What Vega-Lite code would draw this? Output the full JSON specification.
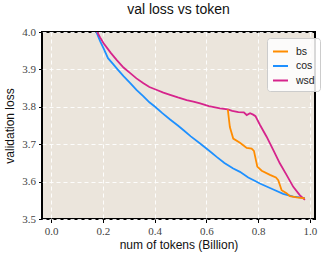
{
  "$schema": "https://vega.github.io/schema/vega-lite/v6.json",
  "autosize": {"type": "none"},
  "width": 273,
  "height": 187,
  "padding": {"left": 42, "top": 32, "right": 9, "bottom": 39},
  "background": "white",
  "title": {"text": "val loss vs token", "font": "Liberation Sans", "fontSize": 14, "fontWeight": "normal", "color": "#111111", "offset": 9},
  "data": {"values": [
    {"s":"cos","x":0.175,"y":4.0},{"s":"cos","x":0.19,"y":3.975},{"s":"cos","x":0.203,"y":3.956},{"s":"cos","x":0.22,"y":3.93},{"s":"cos","x":0.24,"y":3.914},{"s":"cos","x":0.257,"y":3.9},{"s":"cos","x":0.28,"y":3.882},{"s":"cos","x":0.306,"y":3.863},{"s":"cos","x":0.33,"y":3.845},{"s":"cos","x":0.357,"y":3.828},{"s":"cos","x":0.38,"y":3.812},{"s":"cos","x":0.402,"y":3.8},{"s":"cos","x":0.43,"y":3.783},{"s":"cos","x":0.46,"y":3.766},{"s":"cos","x":0.49,"y":3.75},{"s":"cos","x":0.511,"y":3.738},{"s":"cos","x":0.54,"y":3.721},{"s":"cos","x":0.576,"y":3.702},{"s":"cos","x":0.61,"y":3.683},{"s":"cos","x":0.64,"y":3.666},{"s":"cos","x":0.67,"y":3.65},{"s":"cos","x":0.704,"y":3.635},{"s":"cos","x":0.73,"y":3.626},{"s":"cos","x":0.762,"y":3.611},{"s":"cos","x":0.785,"y":3.603},{"s":"cos","x":0.807,"y":3.595},{"s":"cos","x":0.833,"y":3.587},{"s":"cos","x":0.859,"y":3.579},{"s":"cos","x":0.897,"y":3.567},{"s":"cos","x":0.936,"y":3.56},{"s":"cos","x":0.96,"y":3.558},{"s":"cos","x":0.981,"y":3.556},
    {"s":"wsd","x":0.178,"y":4.0},{"s":"wsd","x":0.19,"y":3.985},{"s":"wsd","x":0.203,"y":3.97},{"s":"wsd","x":0.23,"y":3.945},{"s":"wsd","x":0.254,"y":3.925},{"s":"wsd","x":0.28,"y":3.905},{"s":"wsd","x":0.306,"y":3.89},{"s":"wsd","x":0.33,"y":3.876},{"s":"wsd","x":0.357,"y":3.863},{"s":"wsd","x":0.38,"y":3.853},{"s":"wsd","x":0.409,"y":3.845},{"s":"wsd","x":0.434,"y":3.838},{"s":"wsd","x":0.46,"y":3.832},{"s":"wsd","x":0.49,"y":3.825},{"s":"wsd","x":0.524,"y":3.818},{"s":"wsd","x":0.55,"y":3.814},{"s":"wsd","x":0.576,"y":3.809},{"s":"wsd","x":0.61,"y":3.802},{"s":"wsd","x":0.653,"y":3.796},{"s":"wsd","x":0.683,"y":3.793},{"s":"wsd","x":0.7,"y":3.789},{"s":"wsd","x":0.724,"y":3.786},{"s":"wsd","x":0.745,"y":3.785},{"s":"wsd","x":0.756,"y":3.778},{"s":"wsd","x":0.769,"y":3.783},{"s":"wsd","x":0.781,"y":3.779},{"s":"wsd","x":0.79,"y":3.775},{"s":"wsd","x":0.807,"y":3.752},{"s":"wsd","x":0.833,"y":3.72},{"s":"wsd","x":0.859,"y":3.684},{"s":"wsd","x":0.884,"y":3.649},{"s":"wsd","x":0.91,"y":3.618},{"s":"wsd","x":0.936,"y":3.586},{"s":"wsd","x":0.961,"y":3.564},{"s":"wsd","x":0.981,"y":3.551},
    {"s":"bs","x":0.683,"y":3.793},{"s":"bs","x":0.691,"y":3.746},{"s":"bs","x":0.704,"y":3.715},{"s":"bs","x":0.73,"y":3.704},{"s":"bs","x":0.756,"y":3.69},{"s":"bs","x":0.775,"y":3.688},{"s":"bs","x":0.784,"y":3.682},{"s":"bs","x":0.797,"y":3.64},{"s":"bs","x":0.814,"y":3.629},{"s":"bs","x":0.846,"y":3.618},{"s":"bs","x":0.869,"y":3.611},{"s":"bs","x":0.878,"y":3.604},{"s":"bs","x":0.891,"y":3.577},{"s":"bs","x":0.91,"y":3.569},{"s":"bs","x":0.923,"y":3.561},{"s":"bs","x":0.949,"y":3.558},{"s":"bs","x":0.981,"y":3.555}
  ]},
  "mark": {"type": "line", "strokeWidth": 1.8, "clip": true},
  "encoding": {
    "x": {"field": "x", "type": "quantitative", "scale": {"domain": [-0.035, 1.02], "nice": false, "zero": false},
      "axis": {"title": "num of tokens (Billion)", "values": [0, 0.2, 0.4, 0.6, 0.8, 1.0], "format": ".1f"}},
    "y": {"field": "y", "type": "quantitative", "scale": {"domain": [3.5, 4.0], "nice": false, "zero": false},
      "axis": {"title": "validation loss", "values": [3.5, 3.6, 3.7, 3.8, 3.9, 4.0], "format": ".1f"}},
    "color": {"field": "s", "type": "nominal", "scale": {"domain": ["bs", "cos", "wsd"], "range": ["#ff8c00", "#1e90ff", "#d6248c"]},
      "legend": {"title": null, "orient": "none", "legendX": 225, "legendY": 6}},
    "order": {"field": "x", "type": "quantitative"}
  },
  "config": {
    "view": {"fill": "#ebe5dc", "stroke": "black", "strokeWidth": 2},
    "axis": {
      "domain": false,
      "grid": true, "gridColor": "white", "gridDash": [4, 3], "gridWidth": 1, "gridOpacity": 0.9,
      "ticks": true, "tickColor": "black", "tickSize": 3.5, "tickWidth": 1,
      "labelFont": "Liberation Serif", "labelFontSize": 11, "labelColor": "#444444", "labelPadding": 3,
      "titleFont": "Liberation Sans", "titleFontSize": 12, "titleFontWeight": "normal", "titleColor": "#111111"
    },
    "axisX": {"titlePadding": 3},
    "axisY": {"titlePadding": 5},
    "legend": {
      "symbolType": "stroke", "symbolStrokeWidth": 2, "symbolSize": 225,
      "labelFont": "Liberation Sans", "labelFontSize": 10.5, "labelColor": "#222222",
      "fillColor": "rgba(255,255,255,0.85)", "strokeColor": "#cccccc", "cornerRadius": 3,
      "padding": 5, "rowPadding": 0.5, "labelOffset": 7
    }
  }
}
